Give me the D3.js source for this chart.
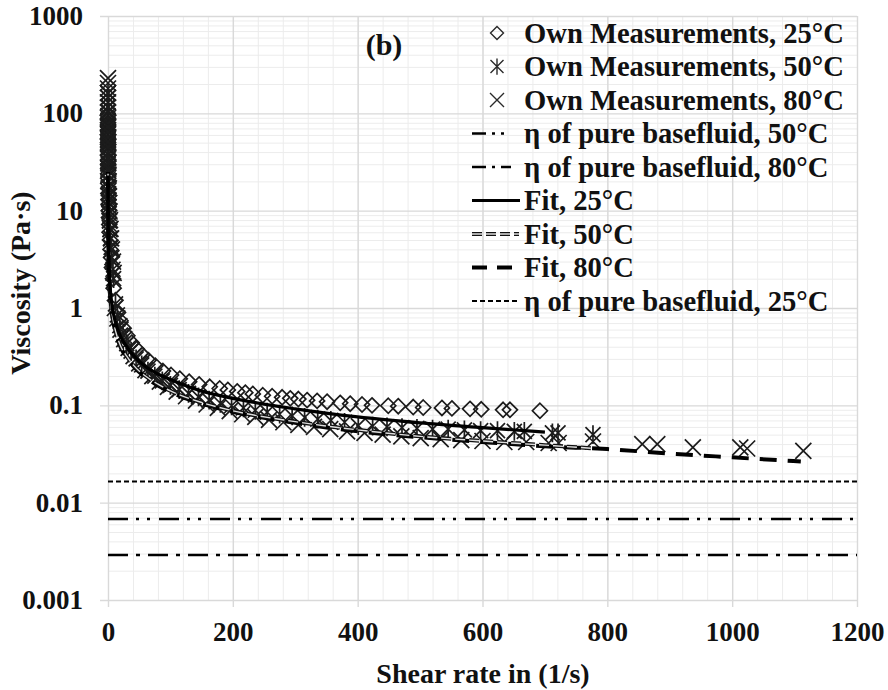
<!DOCTYPE html>
<html><head><meta charset="utf-8">
<script src="https://cdn.jsdelivr.net/npm/d3@7"></script>
<style>
html,body{margin:0;padding:0;background:#fff;}
</style></head>
<body><svg id="chart" width="888" height="690"></svg>
<script>
// ---------- data ----------
const xTicks = [0, 200, 400, 600, 800, 1000, 1200];
const yTicks = [0.001, 0.01, 0.1, 1, 10, 100, 1000];
const yTickLabels = ["0.001", "0.01", "0.1", "1", "10", "100", "1000"];

// Own measurements 25°C (diamonds)
const m25x = [0.01,0.013,0.016,0.02,0.025,0.032,0.04,0.05,0.063,0.08,0.1,0.13,0.16,0.2,0.25,0.32,0.4,0.5,0.63,0.8,1,1.3,1.6,2,2.5,3.2,4,5,6.3,8,9,
  12,16,20,25,31,38,46,55,65,76,88,101,115,130,146,163,179,192,207,220,232,248,263,279,292,305,319,335,351,372,388,407,423,449,465,489,505,535,551,580,598,633,644,692];
const m25y = [95,88,80,73,66,60,55,50,45,41,37,33,30,27,24,21.5,19,17,15,13,11.5,10,8.5,7.2,6,5,4,3.3,2.6,2.0,1.6,
  1.2,0.9,0.74,0.62,0.52,0.44,0.38,0.33,0.29,0.255,0.225,0.205,0.188,0.175,0.164,0.155,0.149,0.144,0.139,0.135,0.131,0.127,0.124,0.121,0.118,0.116,0.113,0.111,0.109,0.106,0.104,0.102,0.1,0.099,0.098,0.096,0.095,0.094,0.093,0.092,0.091,0.09,0.09,0.088];

// Own measurements 50°C (asterisks)
const m50x = [0.01,0.013,0.016,0.02,0.025,0.032,0.04,0.05,0.063,0.08,0.1,0.13,0.16,0.2,0.25,0.32,0.4,0.5,0.63,0.8,1,1.3,1.6,2,2.5,3.2,4,5,6.3,8,9,
  12,15,19,24,30,37,45,54,64,75,87,100,114,129,145,162,180,198,217,236,255,275,295,315,336,357,379,401,424,447,471,495,520,545,571,597,624,651,667,712,721,777];
const m50y = [160,145,130,117,105,95,85,76,68,61,54,48,43,38,34,30,26,23,20,17.5,15,13,11,9.3,7.8,6.4,5.2,4.2,3.3,2.5,2.0,
  1.1,0.85,0.66,0.53,0.43,0.36,0.3,0.26,0.225,0.2,0.178,0.16,0.145,0.133,0.122,0.113,0.105,0.099,0.094,0.089,0.085,0.081,0.078,0.075,0.072,0.07,0.067,0.062,0.061,0.06,0.059,0.058,0.057,0.057,0.056,0.055,0.055,0.054,0.054,0.052,0.052,0.05];

// Own measurements 80°C (crosses)
const m80x = [0.01,0.013,0.016,0.02,0.025,0.032,0.04,0.05,0.063,0.08,0.1,0.13,0.16,0.2,0.25,0.32,0.4,0.5,0.63,0.8,1,1.3,1.6,2,2.5,3.2,4,5,6.3,8,9,
  11,15,20,26,33,41,50,60,71,83,96,110,125,141,158,176,195,215,236,258,281,305,330,356,383,411,440,470,501,533,566,600,635,670,706,722,777,856,880,937,1013,1024,1114];
const m80y = [230,205,180,162,145,130,115,102,90,80,72,64,57,51,45,40,35,31,27,23.5,20,17,14,12,9.8,8,6.5,5.2,4.0,3.0,2.3,
  1.0,0.78,0.6,0.48,0.39,0.32,0.27,0.23,0.2,0.175,0.155,0.138,0.124,0.112,0.102,0.094,0.087,0.081,0.076,0.071,0.067,0.063,0.06,0.057,0.054,0.052,0.05,0.048,0.046,0.045,0.044,0.043,0.042,0.042,0.041,0.041,0.0425,0.04,0.04,0.037,0.037,0.036,0.034];

// Fit curves
const fit25x = [0.05,0.1,0.2,0.5,1,2,4,7,10,15,20,30,40,60,80,100,150,200,300,400,500,600,700];
const fit25y = [23,15.3,9.8,5.5,3.5,2.25,1.45,1.0,0.8,0.62,0.51,0.4,0.33,0.25,0.21,0.184,0.14,0.118,0.092,0.076,0.066,0.059,0.053];
const fit50x = [0.05,0.1,0.2,0.5,1,2,4,7,10,15,20,30,40,60,80,100,150,200,300,400,500,600,700,780];
const fit50y = [24,14.8,9.3,4.9,3.05,1.95,1.22,0.84,0.66,0.5,0.41,0.32,0.262,0.2,0.165,0.141,0.107,0.088,0.068,0.056,0.048,0.043,0.039,0.036];
const fit80x = [0.05,0.1,0.2,0.5,1,2,4,7,10,15,20,30,40,60,80,100,150,200,300,400,500,600,700,800,900,1000,1110];
const fit80y = [25,14.5,9.2,4.8,3.0,1.9,1.2,0.82,0.64,0.49,0.4,0.31,0.255,0.194,0.16,0.137,0.104,0.086,0.066,0.054,0.047,0.042,0.038,0.0355,0.032,0.0292,0.0265];

// Base fluid viscosities
const baseNames = ["25", "50", "80"];
const baseVisc = [0.0165, 0.0068, 0.0029];

// Legend
const legendLabels = ["Own Measurements, 25°C","Own Measurements, 50°C","Own Measurements, 80°C",
  "η of pure basefluid, 50°C","η of pure basefluid, 80°C","Fit, 25°C","Fit, 50°C","Fit, 80°C","η of pure basefluid, 25°C"];

// ---------- drawing ----------
const FONT = '"Liberation Serif", "Times New Roman", Times, serif';
const svg = d3.select("#chart");
const X0 = 108, X1 = 857, Y0 = 600, Y1 = 16;
const x = d3.scaleLinear().domain([0, 1200]).range([X0, X1]);
const y = d3.scaleLog().domain([0.001, 1000]).range([Y0, Y1]);
function styleText(sel, size) {
  return sel.attr("font-family", FONT).style("font-family", FONT)
    .attr("font-weight", "bold").style("font-weight", "bold")
    .attr("font-size", size).attr("fill", "#111");
}

const minorY = [];
for (let e = -3; e < 3; e++) for (let k = 2; k <= 9; k++) minorY.push(k * Math.pow(10, e));
const minorX = d3.range(0, 1201, 40);

// minor grid
svg.append("g").attr("transform", `translate(${X0},0)`)
  .call(d3.axisLeft(y).tickValues(minorY).tickSize(-(X1 - X0)).tickFormat(""))
  .call(g => g.select(".domain").remove())
  .call(g => g.selectAll("line").attr("stroke", "#ececec").attr("stroke-width", 1));
svg.append("g").attr("transform", `translate(0,${Y0})`)
  .call(d3.axisBottom(x).tickValues(minorX).tickSize(-(Y0 - Y1)).tickFormat(""))
  .call(g => g.select(".domain").remove())
  .call(g => g.selectAll("line").attr("stroke", "#ececec").attr("stroke-width", 1));

// major grid + ticks (extended outward)
svg.append("g").attr("transform", `translate(${X1},0)`)
  .call(d3.axisLeft(y).tickValues(yTicks).tickSizeInner(X1 - X0 + 8).tickSizeOuter(0).tickFormat(""))
  .call(g => g.select(".domain").remove())
  .call(g => g.selectAll("line").attr("stroke", "#d9d9d9").attr("stroke-width", 1.4));
svg.append("g").attr("transform", `translate(0,${Y1})`)
  .call(d3.axisBottom(x).tickValues(xTicks).tickSizeInner(Y0 - Y1 + 7).tickSizeOuter(0).tickFormat(""))
  .call(g => g.select(".domain").remove())
  .call(g => g.selectAll("line").attr("stroke", "#d9d9d9").attr("stroke-width", 1.4));

// tick labels
svg.append("g").attr("transform", `translate(${X0},0)`)
  .call(d3.axisLeft(y).tickValues(yTicks).tickSize(0).tickPadding(25).tickFormat((d, i) => yTickLabels[i]))
  .call(g => g.select(".domain").remove())
  .call(g => styleText(g.selectAll("text"), 27));
svg.append("g").attr("transform", `translate(0,${Y0})`)
  .call(d3.axisBottom(x).tickValues(xTicks).tickSize(0).tickPadding(22).tickFormat(d3.format("d")))
  .call(g => g.select(".domain").remove())
  .call(g => styleText(g.selectAll("text"), 27));

// axis titles
styleText(svg.append("text"), 28).attr("x", 483).attr("y", 683).attr("text-anchor", "middle")
  .text("Shear rate in (1/s)");
styleText(svg.append("text"), 28).attr("transform", "translate(30,283) rotate(-90)").attr("text-anchor", "middle")
  .text("Viscosity (Pa·s)");
styleText(svg.append("text"), 30).attr("x", 384).attr("y", 55).attr("text-anchor", "middle")
  .text("(b)");

// marker shapes
const mk = {
  diamond: s => `M0,${-s}L${s},0L0,${s}L${-s},0Z`,
  aster: s => `M${-s},${-s}L${s},${s}M${-s},${s}L${s},${-s}M0,${-s * 1.25}L0,${s * 1.25}`,
  cross: s => `M${-s},${-s}L${s},${s}M${-s},${s}L${s},${-s}`
};
function drawMarkers(xs, ys, shape, s) {
  svg.append("g").selectAll("path").data(xs.map((d, i) => [d, ys[i]])).join("path")
    .attr("transform", d => `translate(${x(d[0])},${y(d[1])})`)
    .attr("d", mk[shape](s)).attr("fill", "none").attr("stroke", "#1c1c1c").attr("stroke-width", 1.7);
}
drawMarkers(m25x, m25y, "diamond", 7.5);
drawMarkers(m50x, m50y, "aster", 7.5);
drawMarkers(m80x, m80y, "cross", 8);

// base fluid lines
const baseStyles = {
  "25": {dash: "5,3", w: 2.2},
  "50": {dash: "20,8,3,8,3,9", w: 2.6},
  "80": {dash: "20,8,4,8", w: 2.6}
};
baseNames.forEach((n, i) => {
  svg.append("line").attr("x1", x(0)).attr("x2", x(1200)).attr("y1", y(baseVisc[i])).attr("y2", y(baseVisc[i]))
    .attr("stroke", "#000").attr("stroke-width", baseStyles[n].w).attr("stroke-dasharray", baseStyles[n].dash);
});

// fits
const line = d3.line().x(d => x(d[0])).y(d => y(d[1])).curve(d3.curveMonotoneX);
const zip = (a, b) => a.map((d, i) => [d, b[i]]);
svg.append("path").attr("d", line(zip(fit80x, fit80y))).attr("fill", "none")
  .attr("stroke", "#000").attr("stroke-width", 4).attr("stroke-dasharray", "17,11");
svg.append("path").attr("d", line(zip(fit50x, fit50y))).attr("fill", "none")
  .attr("stroke", "#111").attr("stroke-width", 4).attr("stroke-dasharray", "10,4");
svg.append("path").attr("d", line(zip(fit50x, fit50y))).attr("fill", "none")
  .attr("stroke", "#ddd").attr("stroke-width", 1.4).attr("stroke-dasharray", "10,4");
svg.append("path").attr("d", line(zip(fit25x, fit25y))).attr("fill", "none")
  .attr("stroke", "#000").attr("stroke-width", 3.2);

// legend
const lg = svg.append("g");
const rowY = i => 33 + i * 33.5;
const LX0 = 472, LX1 = 520, TX = 524;
legendLabels.forEach((t, i) => {
  styleText(lg.append("text"), 28.6).attr("x", TX).attr("y", rowY(i) + 9.5).text(t);
});
lg.append("path").attr("transform", `translate(497,${rowY(0)})`).attr("d", mk.diamond(6.5)).attr("fill", "none").attr("stroke", "#2a2a2a").attr("stroke-width", 1.4);
lg.append("path").attr("transform", `translate(497,${rowY(1)})`).attr("d", mk.aster(6.5)).attr("fill", "none").attr("stroke", "#2a2a2a").attr("stroke-width", 1.4);
lg.append("path").attr("transform", `translate(497,${rowY(2)})`).attr("d", mk.cross(7)).attr("fill", "none").attr("stroke", "#2a2a2a").attr("stroke-width", 1.4);
function legLine(i, stroke, w, dash, x1) {
  lg.append("line").attr("x1", LX0).attr("x2", x1 || LX1).attr("y1", rowY(i)).attr("y2", rowY(i))
    .attr("stroke", stroke).attr("stroke-width", w).attr("stroke-dasharray", dash || null);
}
legLine(3, "#000", baseStyles["50"].w, "14,6,3,6,3,30", 506);
legLine(4, "#000", baseStyles["80"].w, "14,6,3,6,10,30", 518);
legLine(5, "#000", 3.2, null);
legLine(6, "#111", 4, "10,4", 519);
legLine(6, "#ddd", 1.4, "10,4", 519);
legLine(7, "#000", 4, "15,10", 517);
legLine(8, "#000", 2.2, "5,3");
</script></body></html>
